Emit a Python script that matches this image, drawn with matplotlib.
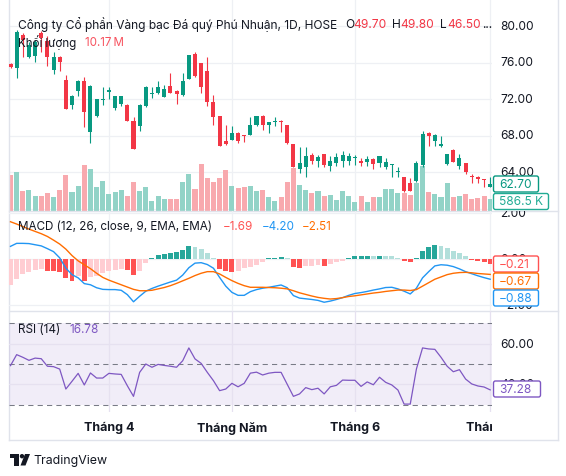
import numpy as np
import matplotlib
matplotlib.use("Agg")
import matplotlib.pyplot as plt
from matplotlib.transforms import Affine2D
from matplotlib.patches import FancyBboxPatch, Rectangle, Polygon, Circle
from matplotlib.lines import Line2D

plt.rcParams['font.family'] = ['Inter', 'DejaVu Sans']

# ---------------- data ----------------
opens = [75.8, 75.4, 79.0, 76.6, 76.7, 79.2, 78.4, 75.2, 76.6, 74.1,
         71.35, 72.9, 74.0, 68.4, 70.1, 71.9, 72.8, 71.0, 71.45, 71.3,
         69.6, 69.0, 71.2, 72.6, 72.65, 72.25, 73.4, 72.9, 72.45, 74.2,
         76.95, 75.95, 75.1, 71.7, 70.1, 67.4, 67.55, 68.3, 68.1, 68.1,
         69.1, 70.1, 69.1, 69.5, 69.6, 69.15, 67.1, 64.3, 64.5, 65.85,
         65.25, 66.0, 64.7, 65.0, 65.25, 65.25, 65.55, 65.25, 65.1, 65.45,
         64.95, 64.6, 64.75, 64.0, 63.45, 62.75, 63.05, 64.8, 68.3, 67.45,
         66.8, 64.9, 66.45, 64.7, 65.0, 63.6, 63.5, 63.2, 62.4]
highs = [75.9, 79.6, 79.2, 78.2, 78.5, 79.5, 78.9, 77.1, 76.7, 74.6,
         72.4, 74.05, 74.4, 73.5, 72.05, 73.3, 73.3, 72.35, 72.35, 71.4,
         70.0, 71.4, 73.4, 73.3, 74.0, 73.5, 74.9, 73.0, 74.9, 76.85,
         77.15, 76.0, 76.6, 72.4, 70.15, 69.1, 69.0, 68.35, 68.1, 70.05,
         70.15, 70.3, 69.5, 70.0, 69.65, 69.2, 67.1, 66.7, 66.7, 66.05,
         65.9, 66.0, 65.8, 66.1, 66.25, 66.1, 65.9, 65.5, 65.8, 65.55,
         65.8, 65.5, 64.9, 64.55, 63.5, 63.35, 65.2, 68.5, 68.35, 68.2,
         67.9, 66.0, 66.5, 66.0, 65.0, 63.8, 63.55, 63.25, 63.45]
lows = [75.4, 74.3, 76.6, 76.5, 76.1, 77.1, 75.65, 74.7, 75.1, 70.85,
        70.85, 72.3, 68.9, 67.2, 70.05, 71.3, 72.0, 70.8, 71.2, 69.6,
        66.5, 68.5, 71.1, 72.1, 72.6, 72.2, 72.65, 71.45, 72.3, 74.2,
        74.45, 72.7, 71.2, 69.1, 66.9, 67.0, 67.5, 67.2, 67.3, 68.05,
        69.05, 68.6, 68.25, 69.0, 68.35, 67.1, 64.5, 63.9, 63.5, 64.9,
        64.5, 64.6, 64.15, 64.7, 64.55, 64.8, 64.8, 64.7, 64.7, 64.35,
        64.5, 64.35, 63.5, 63.5, 61.8, 61.9, 62.9, 64.6, 66.9, 66.9,
        66.75, 64.8, 65.1, 64.35, 63.8, 62.75, 62.75, 62.35, 62.35]
closes = [75.5, 79.3, 78.5, 77.9, 78.2, 78.7, 76.6, 76.6, 76.1, 70.85,
          72.35, 74.0, 70.6, 73.4, 72.0, 72.05, 72.95, 72.3, 72.3, 69.6,
          66.55, 71.35, 73.3, 72.7, 73.3, 73.05, 72.7, 72.5, 74.0, 76.8,
          74.5, 73.3, 71.65, 70.0, 66.9, 67.05, 68.3, 67.35, 68.0, 69.15,
          70.1, 69.1, 69.45, 69.6, 69.5, 67.2, 64.6, 65.0, 65.75, 65.25,
          65.6, 64.8, 65.25, 65.6, 65.9, 65.8, 65.65, 65.0, 65.45, 64.9,
          65.75, 65.15, 64.8, 64.1, 61.95, 61.95, 65.0, 68.2, 67.95, 68.0,
          67.1, 66.0, 65.15, 65.5, 63.95, 63.5, 63.2, 63.1, 62.7]
volumes_k = [1760, 1905, 980, 1030, 735, 735, 880, 685, 1030, 1760,
             930, 1220, 2250, 2055, 1175, 1465, 830, 930, 1030, 735,
             1420, 980, 1175, 490, 735, 585, 585, 585, 1420, 1810,
             1075, 2300, 1615, 1420, 1615, 2005, 1220, 1125, 1175, 1220,
             980, 1030, 685, 490, 685, 1420, 2100, 1270, 1030, 880,
             980, 735, 780, 540, 980, 735, 440, 735, 440, 685,
             685, 1075, 1075, 880, 880, 780, 1370, 2200, 930, 830,
             685, 1370, 685, 735, 830, 585, 635, 735, 586.5]
macd_line = [0.55, 0.68, 0.68, 0.67, 0.62, 0.57, 0.45, 0.32, 0.05, -0.40,
             -0.68, -0.82, -1.07, -1.12, -1.25, -1.32, -1.33, -1.33, -1.36, -1.55,
             -1.86, -1.62, -1.40, -1.28, -1.18, -1.09, -1.00, -0.92, -0.70, -0.38,
             -0.18, -0.16, -0.24, -0.40, -0.80, -1.18, -1.45, -1.58, -1.58, -1.42,
             -1.33, -1.27, -1.23, -1.18, -1.13, -1.25, -1.59, -1.70, -1.73, -1.76,
             -1.80, -1.88, -1.83, -1.76, -1.68, -1.58, -1.50, -1.46, -1.41, -1.35,
             -1.30, -1.24, -1.23, -1.30, -1.40, -1.52, -1.27, -0.82, -0.55, -0.30,
             -0.25, -0.27, -0.33, -0.43, -0.55, -0.64, -0.73, -0.81, -0.88]
signal_line = [1.62, 1.52, 1.41, 1.30, 1.20, 1.10, 0.98, 0.82, 0.65, 0.43,
               0.15, -0.08, -0.25, -0.42, -0.62, -0.80, -0.92, -1.02, -1.12, -1.22,
               -1.32, -1.38, -1.38, -1.36, -1.30, -1.24, -1.16, -1.06, -0.95, -0.84,
               -0.72, -0.62, -0.55, -0.55, -0.65, -0.80, -0.94, -1.06, -1.16, -1.23,
               -1.23, -1.23, -1.24, -1.25, -1.27, -1.30, -1.38, -1.47, -1.54, -1.61,
               -1.67, -1.71, -1.74, -1.72, -1.68, -1.63, -1.60, -1.56, -1.52, -1.48,
               -1.45, -1.41, -1.38, -1.35, -1.35, -1.37, -1.33, -1.18, -1.03, -0.88,
               -0.78, -0.68, -0.62, -0.59, -0.58, -0.60, -0.63, -0.65, -0.67]
macd_hist = [-1.13, -0.85, -0.66, -0.56, -0.49, -0.45, -0.51, -0.52, -0.55, -0.84,
             -0.94, -0.76, -0.94, -0.80, -0.73, -0.62, -0.53, -0.47, -0.44, -0.48,
             -0.71, -0.50, -0.16, 0.03, 0.17, 0.23, 0.27, 0.31, 0.37, 0.55,
             0.52, 0.45, 0.27, 0.04, -0.45, -0.52, -0.57, -0.50, -0.40, -0.34,
             -0.26, -0.12, 0.04, 0.06, 0.09, 0.03, -0.36, -0.39, -0.30, -0.29,
             -0.28, -0.31, -0.22, -0.14, -0.07, 0.04, 0.12, 0.13, 0.14, 0.12,
             0.14, 0.13, 0.11, 0.03, -0.07, -0.14, 0.03, 0.33, 0.51, 0.61,
             0.55, 0.46, 0.36, 0.26, 0.14, -0.03, -0.08, -0.14, -0.21]
rsi_values = [49.2, 54.6, 53.3, 51.8, 52.9, 52.6, 48.9, 48.7, 47.5, 37.7,
              41.5, 45.4, 39.7, 45.6, 43.1, 43.1, 45.4, 45.1, 44.9, 39.3,
              34.1, 45.9, 50.0, 48.4, 49.8, 49.3, 48.9, 48.4, 51.6, 57.9,
              52.5, 50.3, 45.9, 41.8, 36.9, 37.7, 40.5, 38.8, 40.5, 45.5,
              46.0, 44.6, 45.5, 45.9, 45.9, 40.0, 34.1, 35.3, 38.4, 37.4,
              38.1, 35.3, 38.8, 39.5, 42.1, 42.0, 42.0, 39.0, 41.2, 39.8,
              43.5, 41.0, 39.7, 37.2, 30.3, 30.3, 47.5, 57.9, 57.4, 57.2,
              53.3, 48.9, 46.2, 47.2, 42.6, 40.2, 39.2, 38.7, 37.28]
month_ticks = [16, 36, 56, 78]
month_labels = ["Tháng 4", "Tháng Năm", "Tháng 6", "Tháng 7"]
price_ticks = [80, 76, 72, 68, 64, 60]
macd_ticks = [2, 0, -2]
rsi_ticks = [60, 40]
rsi_levels = [70, 50, 30]

# ---------------- layout (pixels, y down) ----------------
W, H = 566, 477
PL, PR, AXR = 9, 492, 558
P_TOP, P_BOT = 0, 212
M_TOP, M_BOT = 212, 312
R_TOP, R_BOT = 312, 413
T_BOT = 441
PX0, STEP = 10.5, 6.15
TXT = '#131722'
UP, DN = '#089981', '#f23645'
GRID = '#eef0f4'
SEP = '#e0e3eb'

fig = plt.figure(figsize=(W / 100, H / 100), dpi=100)
fig.patch.set_facecolor('white')
T = Affine2D().scale(1, -1).translate(0, H)
renderer = fig.canvas.get_renderer()


def R(x0, y0, x1, y1):
    return [x0 / W, 1 - y1 / H, (x1 - x0) / W, (y1 - y0) / H]


n = len(closes)
xs = np.arange(n)
xlim = ((PL - PX0) / STEP, (PR - PX0) / STEP)

# y-limits from pixel calibration
p_lim = (80 - (P_BOT - 27) / 9.125, 80 + (27 - P_TOP) / 9.125)
v_lim = (0, 48.9 * (P_BOT - P_TOP - 1))
m_lim = (-(M_BOT - 260) / 23.0, (260 - M_TOP) / 23.0)
r_lim = (30 - (R_BOT - 405.7) / 2.035, 70 + (324.3 - R_TOP) / 2.035)


def make_ax(rect, ylim, z):
    a = fig.add_axes(rect)
    a.set_xlim(*xlim)
    a.set_ylim(*ylim)
    a.axis('off')
    a.set_zorder(z)
    a.patch.set_visible(False)
    return a


# ---------- price pane ----------
ax_pg = make_ax(R(PL, P_TOP, PR, P_BOT), p_lim, 0)
for v in price_ticks:
    ax_pg.axhline(v, color=GRID, lw=0.9)
for t in month_ticks:
    ax_pg.axvline(t, color=GRID, lw=0.9)

ax_v = make_ax(R(PL, P_TOP, PR, P_BOT), v_lim, 1)
o = np.array(opens); c = np.array(closes)
up = c >= o
vol_cols = np.where(up, '#92d3c7', '#f8a9ae')
ax_v.bar(xs, volumes_k, width=0.82, color=vol_cols, linewidth=0)

ax_p = make_ax(R(PL, P_TOP, PR, P_BOT), p_lim, 2)
cols = np.where(up, UP, DN)
ax_p.vlines(xs, lows, highs, colors=cols, linewidth=0.8)
body_b = np.minimum(o, c)
body_h = np.maximum(np.abs(c - o), 0.1)
ax_p.bar(xs, body_h, bottom=body_b, width=0.66, color=cols, linewidth=0)

# ---------- MACD pane ----------
ax_m = make_ax(R(PL, M_TOP, PR, M_BOT), m_lim, 2)
for v in macd_ticks:
    ax_m.axhline(v, color=GRID, lw=0.9, zorder=0)
for t in month_ticks:
    ax_m.axvline(t, color=GRID, lw=0.9, zorder=0)
hist_cols = []
prev = None
for hv in macd_hist:
    if hv >= 0:
        hist_cols.append('#26a69a' if (prev is None or hv >= prev) else '#b2dfdb')
    else:
        hist_cols.append('#ff5252' if (prev is not None and hv < prev) else '#ffcdd2')
    prev = hv
ax_m.bar(xs, macd_hist, width=0.8, color=hist_cols, linewidth=0, zorder=1)
ax_m.plot(xs, macd_line, color='#2196f3', lw=1.0, zorder=3)
ax_m.plot(xs, signal_line, color='#ff6d00', lw=1.0, zorder=3)

# ---------- RSI pane ----------
ax_r = make_ax(R(PL, R_TOP, PR, R_BOT), r_lim, 2)
ax_r.axhspan(rsi_levels[-1], rsi_levels[0], color='#7e57c2', alpha=0.1, lw=0, zorder=0)
for v in rsi_ticks:
    ax_r.axhline(v, color='#e6e1f0', lw=0.9, zorder=1)
for t in month_ticks:
    ax_r.axvline(t, color='#e6e1f0', lw=0.9, zorder=1)
for v in rsi_levels:
    ax_r.axhline(v, color='#787b86', lw=0.75, ls=(0, (5, 4)), zorder=2)
ax_r.plot(xs, rsi_values, color='#7e57c2', lw=0.9, zorder=3)

# ---------- separators and frame ----------
for y in (M_TOP, M_BOT):
    fig.add_artist(Line2D([PL, AXR], [y, y], transform=T, color=SEP, lw=1.0))
fig.add_artist(Line2D([PL, PL], [0, T_BOT], transform=T, color=SEP, lw=1.0))
fig.add_artist(Line2D([AXR, AXR], [0, T_BOT], transform=T, color=SEP, lw=1.0))
fig.add_artist(Line2D([PL, AXR], [T_BOT, T_BOT], transform=T, color=SEP, lw=1.0))

# ---------- price-axis labels ----------
AFS = 8.6


def axis_labels(rect, ylim, ticks, fmt):
    a = make_ax(rect, ylim, 3)
    a.set_xlim(0, 1)
    for v in ticks:
        s = fmt(v)
        a.text(0.12, v, s, ha='left', va='center', fontsize=AFS, color=TXT, clip_on=True)
    return a


axis_labels(R(PR, P_TOP, AXR, P_BOT), p_lim, price_ticks[:-1], lambda v: f"{v:.2f}")
axis_labels(R(PR, M_TOP, AXR, M_BOT), m_lim, macd_ticks,
            lambda v: f"{v:.2f}".replace('-', '\u2212'))
axis_labels(R(PR, R_TOP, AXR, R_BOT), r_lim, rsi_ticks, lambda v: f"{v:.2f}")

# ---------- value boxes ----------
def vbox(y, s, col, w=45, txtcol=None):
    fig.add_artist(FancyBboxPatch((493.5, y - 8), w, 16, transform=T,
                                  boxstyle='round,pad=0,rounding_size=2',
                                  facecolor='white', edgecolor=col, lw=1.0, zorder=10))
    fig.text(499, y, s, transform=T, color=txtcol or col, fontsize=AFS,
             va='center', ha='left', zorder=11)


vbox(185, f"{closes[-1]:.2f}", UP)
vbox(202.5, "586.5 K", '#22ab94', w=55)
vbox(265, "\u2212" + f"{abs(macd_hist[-1]):.2f}", '#ff5252')
vbox(282, "\u2212" + f"{abs(signal_line[-1]):.2f}", '#ff6d00')
vbox(299, "\u2212" + f"{abs(macd_line[-1]):.2f}", '#2196f3')
vbox(390, f"{rsi_values[-1]:.2f}", '#7e57c2', w=47)

# ---------- legends ----------
def put(x, y, s, color=TXT, fs=9.0, weight='normal', target=None, ha='left', z=12):
    t = fig.text(x, y, s, transform=T, color=color, fontsize=fs, fontweight=weight,
                 va='center', ha=ha, zorder=z)
    if target:
        wdt = t.get_window_extent(renderer).width
        t.set_fontsize(fs * target / wdt)
    return t


tt = put(18, 25, "Công ty Cổ phần Vàng bạc Đá quý Phú Nhuận, 1D, HOSE", fs=9.4, target=319)
tfs = tt.get_fontsize()
put(345, 25, "O", fs=tfs)
put(353, 25, "49.70", color=DN, fs=tfs)
put(392, 25, "H", fs=tfs)
put(400, 25, "49.80", color=DN, fs=tfs)
put(440, 25, "L", fs=tfs)
put(447, 25, "46.50", color=DN, fs=tfs)
put(482, 25, "...", fs=tfs)

kl = put(18, 43, "Khối lượng", fs=9.4, target=58)
put(85, 43, "10.17\u2009M", color='#f7525f', fs=kl.get_fontsize())

mt = put(18, 227, "MACD (12, 26, close, 9, EMA, EMA)", fs=9.0, target=195)
mfs = mt.get_fontsize()
put(223, 227, "\u22121.69", color='#ff5252', fs=mfs)
put(262, 227, "\u22124.20", color='#2196f3', fs=mfs)
put(302, 227, "\u22122.51", color='#ff6d00', fs=mfs)

rt = put(18, 330, "RSI (14)", fs=9.0, target=43)
put(70, 330, "16.78", color='#7e57c2', fs=rt.get_fontsize())

# ---------- time axis ----------
ax_t = make_ax(R(PL, R_BOT, PR, T_BOT), (0, 1), 3)
for t, lab in zip(month_ticks, month_labels):
    ax_t.text(t, 0.45, lab, ha='center', va='center', fontsize=9.0,
              fontweight='bold', color=TXT, clip_on=True)

# ---------- TradingView logo ----------
fig.add_artist(Rectangle((10, 455), 9, 4, transform=T, color=TXT, lw=0))
fig.add_artist(Rectangle((14, 455), 4.5, 11.5, transform=T, color=TXT, lw=0))
fig.add_artist(Circle((22, 457.2), 2.2, transform=T, color=TXT, lw=0))
fig.add_artist(Polygon([(25, 455), (30, 455), (25.5, 466.5), (20.5, 466.5)],
                       transform=T, color=TXT, lw=0))
put(33, 461, "TradingView", fs=10.5, target=74)

fig.savefig("out.png", dpi=100, facecolor='white')
